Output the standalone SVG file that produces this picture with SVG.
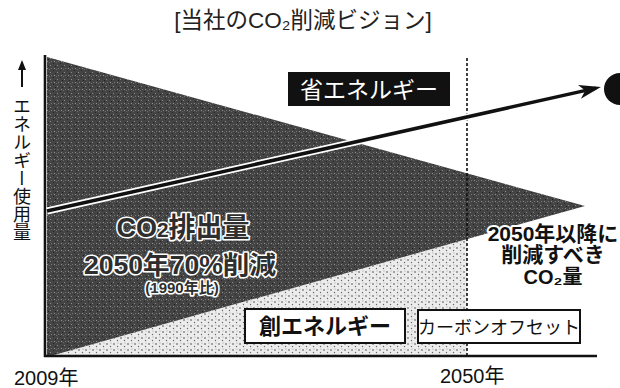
<svg xmlns="http://www.w3.org/2000/svg" width="620" height="388" viewBox="0 0 620 388">
<style>
text{font-family:"Liberation Sans","Noto Sans CJK JP",sans-serif;}
.halo{stroke:#fff;stroke-linejoin:round;paint-order:stroke;}
.dk{fill:#2e2e2e;font-weight:bold;stroke-width:3.2;}
.blk{fill:#111;font-weight:bold;stroke-width:4;}
.box{fill:#fff;stroke:#111;stroke-width:2;}
.axis{stroke:#111;stroke-width:2.6;fill:none;}
</style>
<defs>
<pattern id="dark" width="7" height="7" patternUnits="userSpaceOnUse">
<rect width="7" height="7" fill="#444"/>
<rect x="1" y="2" width="1" height="1" fill="#8a8a8a"/>
<rect x="5" y="5" width="1" height="1" fill="#909090"/>
<rect x="4" y="0" width="1" height="1" fill="#262626"/>
<rect x="2" y="5" width="1" height="1" fill="#747474"/>
<rect x="6" y="3" width="1" height="1" fill="#202020"/>
<rect x="0" y="6" width="1" height="1" fill="#6a6a6a"/>
</pattern>
<pattern id="dots" width="7" height="6" patternUnits="userSpaceOnUse">
<rect width="7" height="6" fill="#ececec"/>
<circle cx="2" cy="2" r="0.8" fill="#444"/>
<circle cx="5.5" cy="4.5" r="0.7" fill="#666"/>
<circle cx="6" cy="1" r="0.5" fill="#888"/>
</pattern>
<marker id="ah" viewBox="0 0 22 16" refX="17" refY="8" markerWidth="22" markerHeight="16" markerUnits="userSpaceOnUse" orient="auto">
<path d="M0,1 L22,8 L0,15 L6,8 Z" fill="#111"/>
</marker>
<marker id="ahs" viewBox="0 0 10 10" refX="8" refY="5" markerWidth="10" markerHeight="10" markerUnits="userSpaceOnUse" orient="auto">
<path d="M0,1 L10,5 L0,9 Z" fill="#111"/>
</marker>
</defs>
<rect width="620" height="388" fill="#fff"/>

<g id="areas">
<polygon points="47,357 467,239 467,357" fill="url(#dots)"/>
<polygon points="47,57 585,206 47,357" fill="url(#dark)"/>
</g>

<g id="connectors">
<line class="axis" x1="45" y1="55" x2="45" y2="357"/>
<line class="axis" x1="44" y1="356" x2="597" y2="356"/>
<line x1="467" y1="58" x2="467" y2="357" stroke="#111" stroke-width="1.6" stroke-dasharray="3,2"/>
<line x1="47" y1="211" x2="596" y2="88.1" stroke="#fff" stroke-width="7"/>
<line x1="47" y1="211" x2="596" y2="88.1" stroke="#111" stroke-width="3.5" marker-end="url(#ah)"/>
<line x1="22" y1="87" x2="22" y2="62" stroke="#111" stroke-width="2" marker-end="url(#ahs)"/>
</g>

<g id="title">
<text x="303" y="28" font-size="22.5" text-anchor="middle" fill="#222">[当社のCO₂削減ビジョン]</text>
</g>

<g id="yaxis-label">
<text x="22" y="97" font-size="18" fill="#111" style="writing-mode:vertical-rl;font-family:'Noto Sans CJK JP',sans-serif">エネルギー使用量</text>
</g>

<g id="save-energy">
<rect x="288" y="72" width="162" height="34" fill="#111"/>
<text x="369" y="97.5" font-size="23" text-anchor="middle" fill="#fff">省エネルギー</text>
</g>

<g id="zero-mark">
<circle cx="620" cy="89" r="16" fill="#111"/>
</g>

<g id="co2-emission">
<text class="halo dk" x="183" y="237" font-size="27" text-anchor="middle">CO<tspan font-size="21">2</tspan>排出量</text>
<text class="halo dk" x="180" y="274" font-size="25" text-anchor="middle" textLength="192" lengthAdjust="spacingAndGlyphs">2050年70%削減</text>
<text class="halo dk" x="182" y="293" font-size="15" text-anchor="middle">(1990年比)</text>
</g>

<g id="after-2050">
<text class="halo blk" x="553" y="241" font-size="21" text-anchor="middle">2050年以降に</text>
<text class="halo blk" x="553" y="262" font-size="21" text-anchor="middle">削減すべき</text>
<text class="halo blk" x="553" y="284" font-size="20" text-anchor="middle">CO₂量</text>
</g>

<g id="create-energy">
<rect class="box" x="245" y="309" width="160" height="34"/>
<text x="325" y="334" font-size="22" text-anchor="middle" fill="#111" font-weight="bold">創エネルギー</text>
</g>

<g id="carbon-offset">
<rect class="box" x="418" y="310" width="162" height="33"/>
<text x="499" y="334" font-size="18" text-anchor="middle" fill="#111">カーボンオフセット</text>
</g>

<g id="years">
<text x="14" y="385" font-size="20" fill="#111">2009年</text>
<text x="440" y="383" font-size="20" fill="#111">2050年</text>
</g>
</svg>
